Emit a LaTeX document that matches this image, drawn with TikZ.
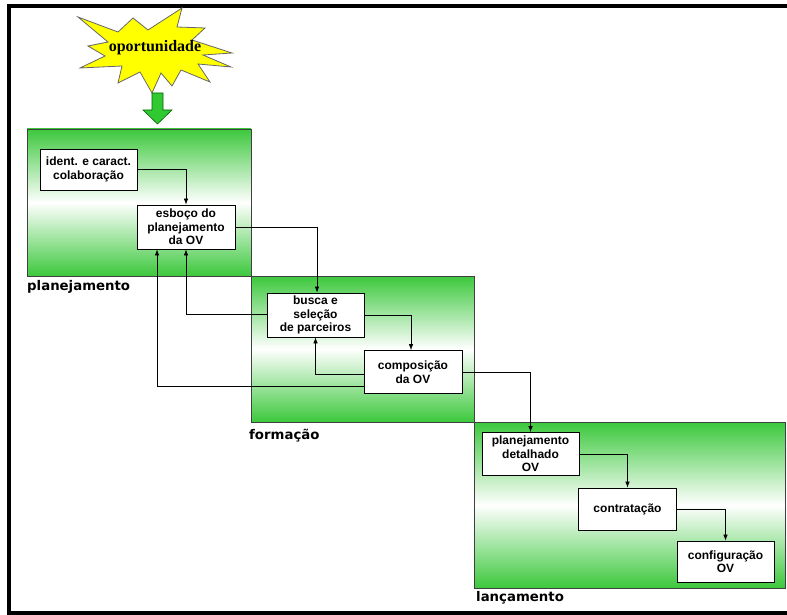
\documentclass[tikz,border=0pt]{standalone}
\usepackage{fontspec}
\usetikzlibrary{arrows.meta,calc}
\newfontfamily\boxfont{Liberation Sans}
\newfontfamily\labfont{DejaVu Sans}
\newfontfamily\starfont{Liberation Serif}
\definecolor{pgreen}{RGB}{60,200,60}
\definecolor{agreen}{RGB}{50,200,50}
\definecolor{starfill}{RGB}{255,255,0}
\tikzset{
  panel/.style={draw=black!75, line width=0.8pt, top color=pgreen, bottom color=pgreen, middle color=white},
  stepbox/.style={draw=black, line width=0.8pt, fill=white, rectangle, inner sep=0pt, align=center,
    font=\boxfont\bfseries\fontsize{12}{13.5}\selectfont},
  plabel/.style={anchor=west, inner sep=0pt, font=\labfont\bfseries\fontsize{13.3}{15}\selectfont},
  conn/.style={draw=black, line width=0.7pt, -{Latex[length=6pt,width=4.5pt]}},
  frameline/.style={line width=4pt, black}
}
\begin{document}
\begin{tikzpicture}[x=1pt,y=-1pt]
\useasboundingbox (0,0) rectangle (787,615);
% frame
\draw[frameline] (7,6) -- (787,6);
\draw[frameline] (9,4) -- (9,615);
\draw[frameline] (7,613) -- (787,613);
% panels
\path[panel] (27,129) rectangle (251,276);
\path[panel] (251,276) rectangle (474,422);
\path[panel] (474,422) rectangle (785,588);
\node[plabel] (lplan) at (27,287) {planejamento};
\node[plabel] (lform) at (249,436) {formação};
\node[plabel] (llanc) at (476,598) {lançamento};
% starburst
\filldraw[fill=starfill, draw=black!60, line width=0.8pt]
  (78,17) -- (118,32) -- (133,18) -- (148,30) -- (182,8) -- (177,27) -- (205,28) -- (192,40)
  -- (232,53) -- (203,55) -- (231,67) -- (198,64) -- (210,82) -- (181,70) -- (172,86) -- (161,73)
  -- (152,93) -- (140,72) -- (118,83) -- (122,66) -- (80,68) -- (105,56) -- (88,46) -- (108,42) -- cycle;
\node[font=\starfont\bfseries\fontsize{16}{18}\selectfont, inner sep=0pt] (opp) at (155,48) {oportunidade};
% green arrow
\filldraw[fill=agreen, draw=green!40!black, line width=0.6pt]
  (152,93) -- (163,93) -- (163,110) -- (172,110) -- (157.5,124) -- (143,110) -- (152,110) -- cycle;
% boxes
\node[stepbox, minimum width=97pt, minimum height=41pt] (ident) at (88.5,169.5) {ident. e caract.\\colaboração};
\node[stepbox, minimum width=98pt, minimum height=44pt] (esb) at (186,227) {esboço do\\planejamento\\da OV};
\node[stepbox, minimum width=97pt, minimum height=44pt] (busca) at (315.5,315) {busca e\\seleção\\de parceiros};
\node[stepbox, minimum width=98pt, minimum height=43pt] (comp) at (413,372) {composição\\da OV};
\node[stepbox, minimum width=97pt, minimum height=43pt] (pdet) at (530.5,454) {planejamento\\detalhado\\OV};
\node[stepbox, minimum width=98pt, minimum height=42pt] (contr) at (627.5,509) {contratação};
\node[stepbox, minimum width=97pt, minimum height=41pt] (conf) at (725.5,561.5) {configuração\\OV};
% forward connectors
\draw[conn] (ident.east) -| (esb.north);
\draw[conn] (esb.east) -| ($(busca.north)+(1.5,0)$);
\draw[conn] (busca.east) -| ($(comp.north)+(-2,0)$);
\draw[conn] (comp.east) -| (pdet.north);
\draw[conn] (pdet.east) -| (contr.north);
\draw[conn] (contr.east) -| (conf.north);
% feedback connectors
\coordinate (c1) at ($(busca.west)+(0,-1)$);
\draw[conn] (c1) -| (esb.south);
\coordinate (c2) at ($(comp.west)+(0,2)$);
\draw[conn] (c2) -| (busca.south);
\coordinate (c3) at ($(comp.west)+(0,14)$);
\draw[conn] (c3) -| ($(esb.south)+(-29,0)$);
\end{tikzpicture}
\end{document}
